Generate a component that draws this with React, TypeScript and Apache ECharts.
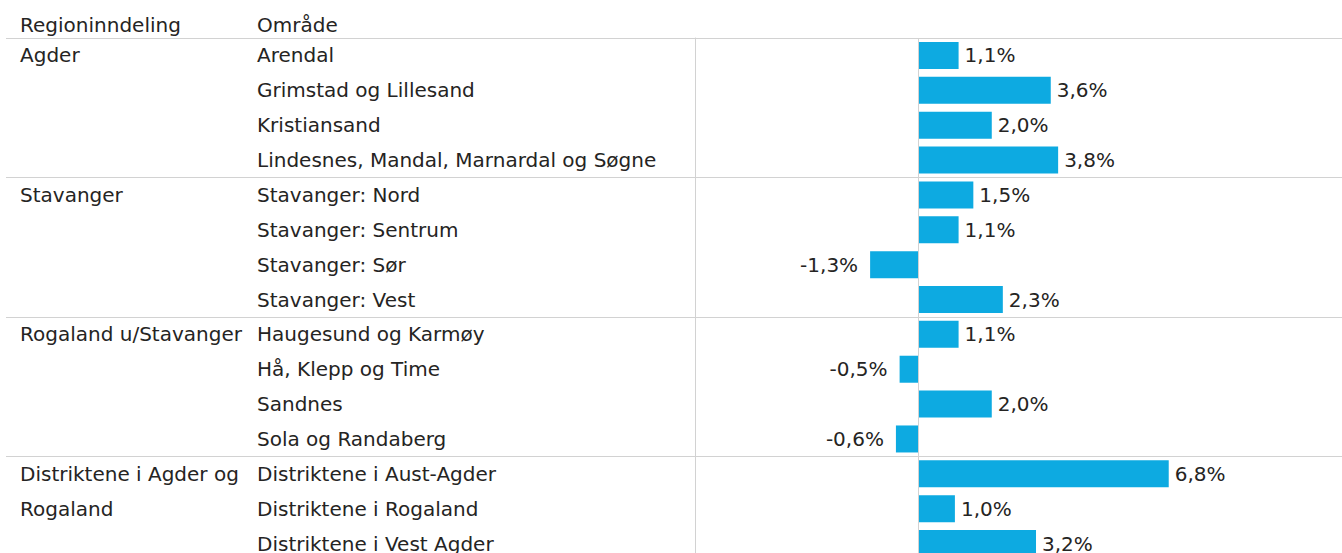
import React, { useEffect, useRef } from "react";
import * as echarts from "echarts";

const headers = ["Regioninndeling", "Område"];

const omrader = [
  "Arendal",
  "Grimstad og Lillesand",
  "Kristiansand",
  "Lindesnes, Mandal, Marnardal og Søgne",
  "Stavanger: Nord",
  "Stavanger: Sentrum",
  "Stavanger: Sør",
  "Stavanger: Vest",
  "Haugesund og Karmøy",
  "Hå, Klepp og Time",
  "Sandnes",
  "Sola og Randaberg",
  "Distriktene i Aust-Agder",
  "Distriktene i Rogaland",
  "Distriktene i Vest Agder",
];

const regioner = [
  "Agder",
  "",
  "",
  "",
  "Stavanger",
  "",
  "",
  "",
  "Rogaland u/Stavanger",
  "",
  "",
  "",
  "Distriktene i Agder og\nRogaland",
  "",
  "",
];

const endring = [1.1, 3.6, 2.0, 3.8, 1.5, 1.1, -1.3, 2.3, 1.1, -0.5, 2.0, -0.6, 6.8, 1.0, 3.2];

const FONT = "DejaVu Sans";
const TEXT = "#252423";
const LINE = "#d2d2d2";
const BAR = "#0DAAE1";

const groupStart = (i: number) => regioner[i] !== "" || i === omrader.length;

export default function App() {
  const ref = useRef<HTMLDivElement>(null);
  useEffect(() => {
    if (!ref.current) return;
    const chart = echarts.init(ref.current, null, { renderer: "svg" });
    const fmt = (v: number) => v.toFixed(1).replace(".", ",") + "%";
    chart.setOption({
      animation: false,
      grid: { left: 695, right: 0, top: 38, bottom: 0, containLabel: false },
      xAxis: { type: "value", min: -6.05, max: 11.5, show: false },
      yAxis: [
        {
          type: "category",
          data: omrader,
          inverse: true,
          axisLine: { show: true, onZero: false, lineStyle: { color: LINE, width: 1 } },
          axisTick: {
            show: true,
            length: 689,
            interval: (i: number) => groupStart(i),
            lineStyle: { color: LINE, width: 1 },
          },
          splitLine: {
            show: true,
            interval: (i: number) => groupStart(i),
            lineStyle: { color: LINE, width: 1 },
          },
          axisLabel: {
            margin: 438,
            align: "left",
            fontFamily: FONT,
            fontSize: 20,
            color: TEXT,
            padding: [0, 0, 15, 0],
          },
        },
        {
          type: "category",
          data: omrader,
          inverse: true,
          position: "left",
          axisLine: { show: false, onZero: false },
          axisTick: { show: false },
          splitLine: { show: false },
          axisLabel: {
            margin: 675,
            align: "left",
            fontFamily: FONT,
            fontSize: 20,
            color: TEXT,
            lineHeight: 35,
            padding: [0, 0, 15, 0],
            formatter: (_v: string, i: number) =>
              regioner[i].includes("\n") ? "\n" + regioner[i] : regioner[i],
          },
        },
      ],
      graphic: [
        {
          type: "text",
          x: 20,
          y: 25,
          style: { text: headers[0], font: `20px "${FONT}"`, fill: TEXT, verticalAlign: "middle" },
        },
        {
          type: "text",
          x: 257,
          y: 25,
          style: { text: headers[1], font: `20px "${FONT}"`, fill: TEXT, verticalAlign: "middle" },
        },
      ],
      series: [
        {
          type: "bar",
          barWidth: 27,
          itemStyle: { color: BAR },
          data: endring.map((v) => ({
            value: v,
            label: {
              show: true,
              position: v < 0 ? "left" : "right",
              distance: v < 0 ? 12 : 6,
              formatter: () => fmt(v),
              fontFamily: FONT,
              fontSize: 20,
              color: TEXT,
              padding: [0, 0, 7, 0],
            },
          })),
          markLine: {
            silent: true,
            symbol: "none",
            label: { show: false },
            lineStyle: { color: LINE, type: "solid", width: 1 },
            data: [{ xAxis: 0 }],
          },
        },
      ],
    });
    return () => chart.dispose();
  }, []);
  return (
    <div
      ref={ref}
      style={{ position: "fixed", left: 0, top: 0, width: 1342, height: 561, background: "#fff" }}
    />
  );
}
